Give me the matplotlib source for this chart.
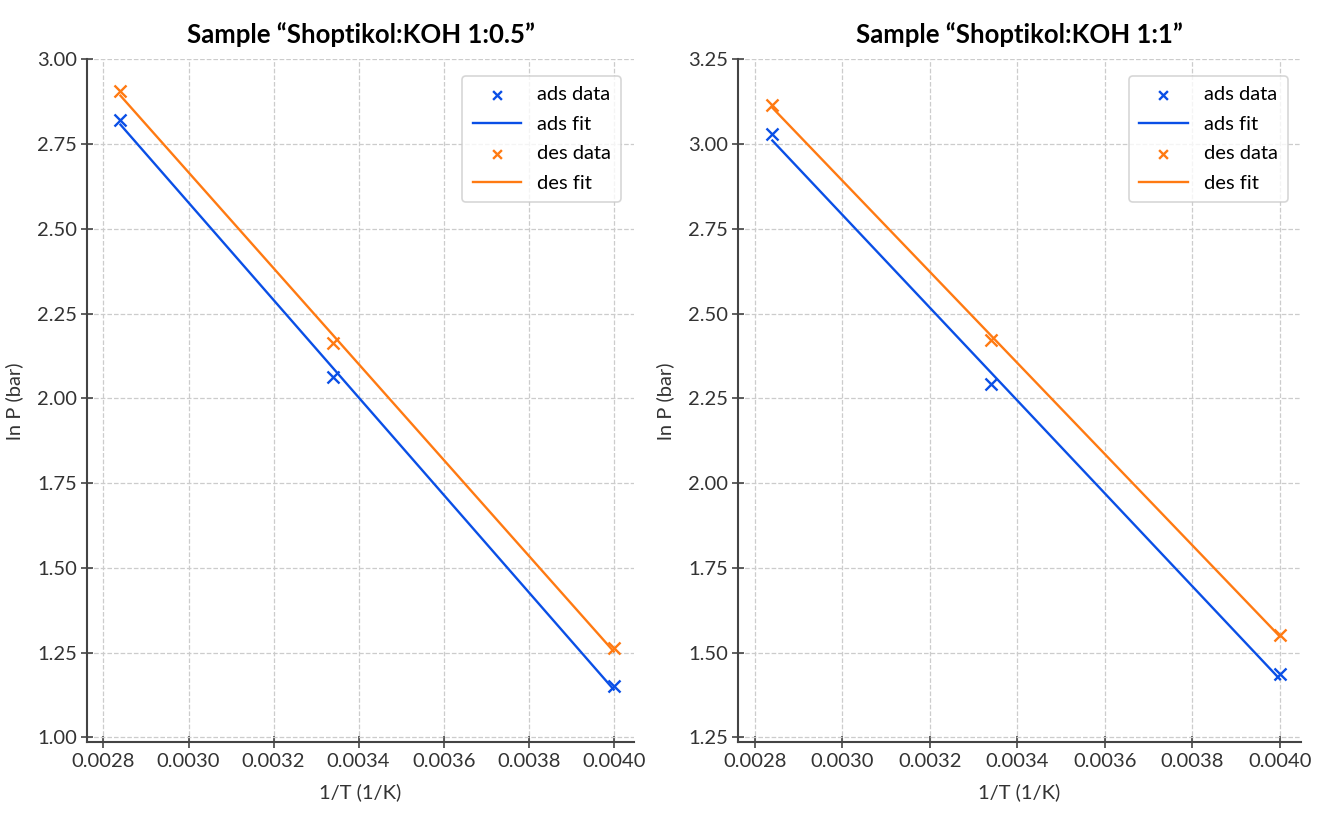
import numpy as np
import matplotlib
matplotlib.use("Agg")
import matplotlib.pyplot as plt

plt.rcParams['font.family'] = ['Lato', 'DejaVu Sans']

# 1/T values (1/K)
inv_t = [0.002840, 0.003339, 0.004000]

# sample 1:0.5
ads_05 = [2.822, 2.064, 1.152]
des_05 = [2.907, 2.162, 1.264]

# sample 1:1
ads_11 = [3.030, 2.292, 1.436]
des_11 = [3.115, 2.422, 1.553]

titles = ['Sample \u201cShoptikol:KOH 1:0.5\u201d', 'Sample \u201cShoptikol:KOH 1:1\u201d']
ylims = [(0.985, 3.0), (1.235, 3.25)]
yticks = [np.arange(1.0, 3.01, 0.25), np.arange(1.25, 3.26, 0.25)]
xticks = [0.0028, 0.0030, 0.0032, 0.0034, 0.0036, 0.0038, 0.0040]

blue = '#0a4fe6'
orange = '#ff7a12'

fig = plt.figure(figsize=(13.23, 8.23), dpi=100)
ax1 = fig.add_axes([0.066, 0.098, 0.413, 0.830])
ax2 = fig.add_axes([0.558, 0.098, 0.425, 0.830])

for ax, ads, des, title, ylim, yt in zip([ax1, ax2], [ads_05, ads_11], [des_05, des_11],
                                         titles, ylims, yticks):
    x = np.array(inv_t)
    xf = np.array([x.min(), x.max()])
    pa = np.polyfit(x, ads, 1)
    pd_ = np.polyfit(x, des, 1)

    ax.scatter(x, ads, marker='x', color=blue, s=75, linewidths=1.7, label='ads data', zorder=3)
    ax.plot(xf, np.polyval(pa, xf), color=blue, lw=1.7, label='ads fit')
    ax.scatter(x, des, marker='x', color=orange, s=75, linewidths=1.7, label='des data', zorder=3)
    ax.plot(xf, np.polyval(pd_, xf), color=orange, lw=1.7, label='des fit')

    ax.set_ylim(*ylim)
    ax.set_yticks(yt)
    ax.set_yticklabels([f'{v:.2f}' for v in yt])
    ax.set_xticks(xticks)
    ax.set_xticklabels([f'{v:.4f}' for v in xticks])
    ax.set_xlim(0.002762, 0.004047)

    ax.spines['top'].set_visible(False)
    ax.spines['right'].set_visible(False)
    for s in ['left', 'bottom']:
        ax.spines[s].set_color('#444444')
        ax.spines[s].set_linewidth(1.5)
    ax.tick_params(direction='inout', length=8, width=1.2, color='#444444',
                   labelsize=14.5, labelcolor='#333333')
    ax.grid(True, linestyle='--', color='#cccccc', linewidth=0.9)
    ax.set_axisbelow(True)

    ax.set_title(title, fontsize=18.5, fontweight='bold', pad=12)
    ax.set_xlabel('1/T (1/K)', fontsize=14.5, color='#333333', labelpad=10)
    ax.set_ylabel('ln P (bar)', fontsize=14.5, color='#333333', labelpad=10)

    leg = ax.legend(loc='upper right', fontsize=14.5, frameon=True, fancybox=True,
                    borderpad=0.5, handlelength=2.4, handletextpad=0.8,
                    labelspacing=0.62, bbox_to_anchor=(0.995, 0.99))
    leg.get_frame().set_edgecolor('#cccccc')
    leg.get_frame().set_linewidth(1.2)
    for h in leg.legend_handles[::2]:
        h.set_sizes([40])

fig.savefig('out.png', dpi=100)
